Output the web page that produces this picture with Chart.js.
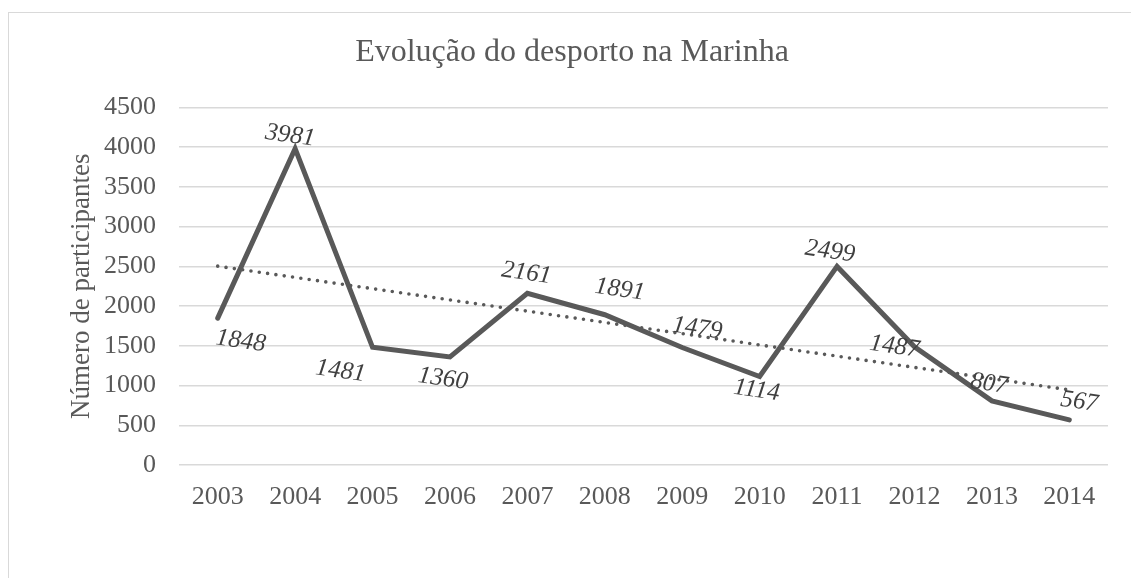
<!DOCTYPE html>
<html>
<head>
<meta charset="utf-8">
<script src="https://cdn.jsdelivr.net/npm/chart.js@4/dist/chart.umd.min.js"></script>
<style>
  html, body { margin: 0; padding: 0; background: #fff; overflow: hidden; }
  #wrap { position: relative; width: 1131px; height: 578px; }
  #frame { position: absolute; left: 8px; top: 12px; width: 1200px; height: 700px;
           border: 1.5px solid #d9d9d9; box-sizing: border-box; }
  #myChart { position: absolute; left: 0; top: 0; }
</style>
</head>
<body>
<div id="wrap">
  <div id="frame"></div>
  <canvas id="myChart" width="1131" height="578"></canvas>
</div>
<script>
var anos = ['2003', '2004', '2005', '2006', '2007', '2008', '2009', '2010', '2011', '2012', '2013', '2014'];
var participantes = [1848, 3981, 1481, 1360, 2161, 1891, 1479, 1114, 2499, 1487, 807, 567];
// linha de tendencia (inicio em 2003 e fim em 2014)
var tendenciaInicio = 2502;
var tendenciaFim = 945;
var yTicks = [0, 500, 1000, 1500, 2000, 2500, 3000, 3500, 4000, 4500];

// deslocamento das etiquetas em relacao ao ponto (px)
var etiquetaDesloc = [
  [23, 23], [-5, -13], [-32, 24], [-7, 22], [-1, -20], [15, -25],
  [15, -19], [-3, 14], [-7, -15], [-20, 0], [-3, -17], [10, -18]
];

var tendencia = anos.map(function (a, i) {
  if (i === 0) return tendenciaInicio;
  if (i === anos.length - 1) return tendenciaFim;
  return null;
});

var etiquetas = {
  id: 'etiquetas',
  afterDatasetsDraw: function (chart) {
    var ctx = chart.ctx;
    var meta = chart.getDatasetMeta(0);
    ctx.save();
    ctx.font = 'italic 25px "Liberation Serif"';
    ctx.fillStyle = '#404040';
    ctx.textAlign = 'center';
    ctx.textBaseline = 'middle';
    meta.data.forEach(function (p, i) {
      ctx.save();
      ctx.translate(p.x + etiquetaDesloc[i][0], p.y + etiquetaDesloc[i][1]);
      ctx.rotate(8 * Math.PI / 180);
      ctx.fillText(String(participantes[i]), 0, 0);
      ctx.restore();
    });
    ctx.restore();
  }
};

var ctx = document.getElementById('myChart').getContext('2d');
var myChart = new Chart(ctx, {
  type: 'line',
  data: {
    labels: anos,
    datasets: [{
      label: 'Participantes',
      data: participantes,
      borderColor: '#595959',
      borderWidth: 5,
      borderJoinStyle: 'miter',
      borderCapStyle: 'round',
      pointRadius: 0,
      tension: 0,
      fill: false
    },
    {
      label: 'Linear',
      data: tendencia,
      spanGaps: true,
      borderColor: '#595959',
      borderWidth: 3.6,
      borderDash: [0, 8.4],
      borderCapStyle: 'round',
      pointRadius: 0,
      tension: 0,
      fill: false
    }]
  },
  options: {
    responsive: false,
    animation: false,
    devicePixelRatio: 1,
    layout: { padding: { left: 36, right: 23, top: 0, bottom: 0 } },
    plugins: {
      legend: { display: false },
      tooltip: { enabled: false },
      title: {
        display: true,
        text: 'Evolução do desporto na Marinha',
        color: '#595959',
        font: { family: 'Liberation Serif', size: 32, weight: 'normal' },
        padding: { top: 33, bottom: 36 }
      }
    },
    scales: {
      x: {
        offset: true,
        grid: { display: false, drawTicks: false },
        border: { display: false },
        ticks: {
          color: '#595959',
          font: { family: 'Liberation Serif', size: 26 },
          padding: 17,
          maxRotation: 0
        },
        afterFit: function (scale) { scale.height = 113; }
      },
      y: {
        min: 0,
        max: 4500,
        afterBuildTicks: function (scale) {
          scale.ticks = yTicks.map(function (v) { return { value: v }; });
        },
        grid: { color: '#d9d9d9', lineWidth: 1.5, drawTicks: false },
        border: { display: false },
        ticks: {
          color: '#595959',
          font: { family: 'Liberation Serif', size: 26 },
          padding: 23,
          callback: function (v) { return String(v); }
        },
        title: {
          display: true,
          text: 'Número de participantes',
          color: '#595959',
          font: { family: 'Liberation Serif', size: 27, weight: 'normal' },
          padding: { top: 30, bottom: 0 }
        },
        afterFit: function (scale) { scale.width = 143; }
      }
    }
  },
  plugins: [etiquetas]
});
</script>
</body>
</html>
